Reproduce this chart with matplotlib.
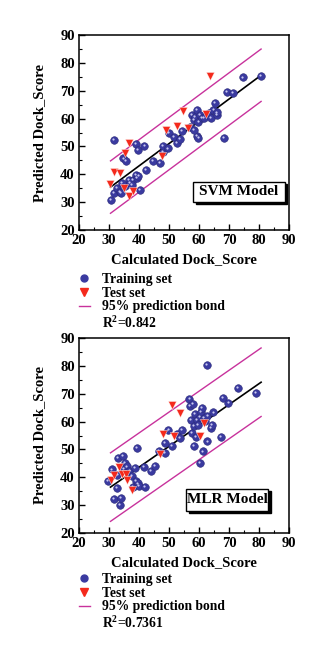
import matplotlib

matplotlib.use("Agg")
import matplotlib.pyplot as plt
import numpy as np
from matplotlib.lines import Line2D
from matplotlib.patches import Rectangle
from matplotlib.ticker import MultipleLocator

plt.rcParams["font.family"] = ["Liberation Serif", "DejaVu Serif"]
plt.rcParams["font.weight"] = "bold"
plt.rcParams["mathtext.fontset"] = "custom"
plt.rcParams["mathtext.bf"] = "Liberation Serif:bold"

# --- SVM model ---------------------------------------------------------
svm_train_x = [30.7, 31.5, 31.5, 32.6, 33.5, 33.9, 34.8, 35.7, 35.4, 36.5, 37.0, 38.1,
               39.0, 39.0, 39.6, 39.2, 40.4, 41.8, 42.2, 44.6, 47.0, 47.9, 48.1, 49.6,
               50.1, 51.5, 52.6, 53.7, 54.3, 57.0, 57.6, 58.2, 58.7, 59.3, 59.3, 59.8,
               60.4, 60.9, 61.7, 63.2, 64.0, 64.8, 65.4, 66.0, 66.0, 68.4, 69.3, 71.2,
               74.5, 80.6, 58.2, 59.8, 34.2, 37.6, 39.8]
svm_train_y = [30.8, 52.3, 33.4, 35.0, 33.8, 33.4, 45.7, 44.9, 35.8, 38.0, 37.0, 38.0,
               39.8, 50.9, 48.7, 38.6, 34.4, 50.3, 41.6, 44.8, 44.0, 48.1, 50.3, 49.3,
               55.0, 53.5, 51.4, 52.6, 55.6, 57.1, 61.3, 59.5, 60.5, 63.1, 53.8, 58.9,
               61.3, 60.1, 60.1, 61.9, 60.1, 63.1, 65.5, 61.3, 62.2, 53.2, 69.7, 69.3,
               74.8, 75.3, 55.9, 53.2, 36.8, 36.2, 39.4]
svm_test_x = [30.3, 31.5, 33.7, 35.4, 36.5, 35.0, 36.6, 37.9, 47.6, 48.9, 52.8, 54.5,
              56.2, 62.3, 63.7]
svm_test_y = [36.6, 41.0, 40.6, 47.5, 51.4, 35.0, 32.2, 34.0, 46.7, 55.9, 57.3, 62.7,
              56.5, 61.5, 75.3]
svm_fit = [0.80, 11.0]      # slope, intercept
svm_band = 9.4
svm_r2 = "0.842"

# --- MLR model ---------------------------------------------------------
mlr_train_x = [29.5, 31.1, 31.5, 32.6, 32.8, 33.1, 33.5, 33.9, 34.6, 35.1, 35.4, 36.1,
               36.8, 37.6, 38.1, 38.7, 39.0, 39.2, 39.6, 40.1, 41.5, 42.0, 43.9, 45.4,
               46.5, 48.7, 48.5, 49.8, 51.1, 52.6, 53.7, 54.3, 56.8, 57.0, 57.3, 57.6,
               58.0, 58.2, 58.4, 58.7, 59.1, 59.3, 59.5, 60.2, 60.4, 60.7, 60.9, 61.5,
               62.0, 62.6, 62.8, 61.2, 62.8, 63.9, 64.3, 64.8, 67.3, 67.9, 69.8, 72.9,
               79.1]
mlr_train_y = [38.6, 42.8, 32.3, 36.1, 41.0, 46.9, 30.2, 32.6, 47.8, 43.0, 45.1, 43.9,
               42.2, 40.4, 36.6, 43.4, 38.7, 50.4, 37.8, 36.9, 43.8, 36.6, 42.2, 44.0,
               49.4, 52.4, 48.8, 57.1, 51.4, 55.6, 54.1, 57.1, 68.1, 65.7, 60.7, 55.9,
               66.4, 58.3, 51.4, 62.7, 54.5, 60.7, 58.9, 45.1, 61.6, 63.6, 64.9, 61.3,
               60.1, 80.4, 52.9, 49.3, 61.9, 57.7, 58.9, 63.3, 54.5, 68.5, 66.7, 72.1,
               70.3]
mlr_test_x = [30.7, 31.5, 33.3, 34.2, 35.7, 35.9, 37.8, 47.0, 48.1, 50.9, 51.7, 53.8,
              60.2, 61.5]
mlr_test_y = [39.1, 40.7, 43.7, 41.3, 41.3, 39.1, 35.6, 48.3, 55.7, 66.1, 55.0, 63.0,
              55.0, 59.4]
mlr_fit = [0.75, 13.6]
mlr_band = 12.3
mlr_r2 = "0.7361"

fit_range = [30.5, 80.7]

BLUE = "#3a3aa0"
RED = "#f42a1c"
MAG = "#c8329c"

W, H = 326, 660
fig = plt.figure(figsize=(W / 100, H / 100), dpi=100)


def panel(top, tx, ty, ex, ey, fit, band, r2, name, box, leg_top):
    ax = fig.add_axes([79 / W, 1 - (top + 195) / H, 210 / W, 195 / H])
    xs = np.array(fit_range)
    yfit = fit[0] * xs + fit[1]
    ax.plot(xs, yfit + band, color=MAG, lw=1.0)
    ax.plot(xs, yfit - band, color=MAG, lw=1.0)
    ax.plot(xs, yfit, color="k", lw=1.2, zorder=3)
    ax.scatter(tx, ty, s=30, color=BLUE, edgecolors="#2a2a78", linewidths=0.4, zorder=4)
    ax.scatter(np.array(tx) - 0.3, np.array(ty) + 0.3, s=2.5, color="#c8c8f0",
               linewidths=0, zorder=5)
    ax.scatter(ex, ey, s=34, marker="v", color=RED, edgecolors="white", linewidths=0.3,
               zorder=6)
    ax.set_xlim(20, 90)
    ax.set_ylim(20, 90)
    ax.xaxis.set_major_locator(MultipleLocator(10))
    ax.yaxis.set_major_locator(MultipleLocator(10))
    ax.xaxis.set_minor_locator(MultipleLocator(5))
    ax.yaxis.set_minor_locator(MultipleLocator(5))
    ax.tick_params(which="both", direction="in", top=False, right=False,
                   labelsize=10.5, pad=3)
    ax.tick_params(which="major", length=4, width=1.0)
    ax.tick_params(which="minor", length=2.5, width=0.8)
    for sp in ax.spines.values():
        sp.set_linewidth(1.1)
    ax.set_xlabel("Calculated Dock_Score", fontsize=10.5, fontweight="bold", labelpad=4)
    ax.set_ylabel("Predicted Dock_Score", fontsize=10.5, fontweight="bold", labelpad=10)

    # model label box with drop shadow
    x0, y0, x1, y1 = box
    ax.add_patch(Rectangle((x0 + 0.012, y0 - 0.012), x1 - x0, y1 - y0,
                           transform=ax.transAxes, fc="k", ec="k", zorder=7))
    ax.add_patch(Rectangle((x0, y0), x1 - x0, y1 - y0, transform=ax.transAxes,
                           fc="white", ec="k", lw=1.0, zorder=8))
    ax.text((x0 + x1) / 2, (y0 + y1) / 2, name, transform=ax.transAxes, ha="center",
            va="center", fontsize=11, fontweight="bold", zorder=9)

    handles = [
        Line2D([], [], ls="none", marker="o", color=BLUE, ms=5),
        Line2D([], [], ls="none", marker="v", color=RED, ms=5.5),
        Line2D([], [], color=MAG, lw=1.0),
    ]
    labels = ["Training set", "Test set", "95% prediction bond"]
    fig.legend(handles, labels, loc="upper left",
               bbox_to_anchor=(79 / W, 1 - (leg_top + 2) / H), frameon=False,
               fontsize=9.8, handlelength=0.8, handletextpad=0.9, labelspacing=0.05,
               borderaxespad=0, borderpad=0)
    fig.text(102 / W, 1 - (leg_top + 52) / H, r"R$^{\mathbf{2}}$=" + r2, fontsize=9.8,
             fontweight="bold", va="center")
    return ax


panel(35, svm_train_x, svm_train_y, svm_test_x, svm_test_y, svm_fit, svm_band, svm_r2,
      "SVM Model", (0.543, 0.144, 0.980, 0.246), 271)
panel(338, mlr_train_x, mlr_train_y, mlr_test_x, mlr_test_y, mlr_fit, mlr_band, mlr_r2,
      "MLR Model", (0.51, 0.115, 0.900, 0.226), 571)

fig.savefig("out.png", dpi=100)
